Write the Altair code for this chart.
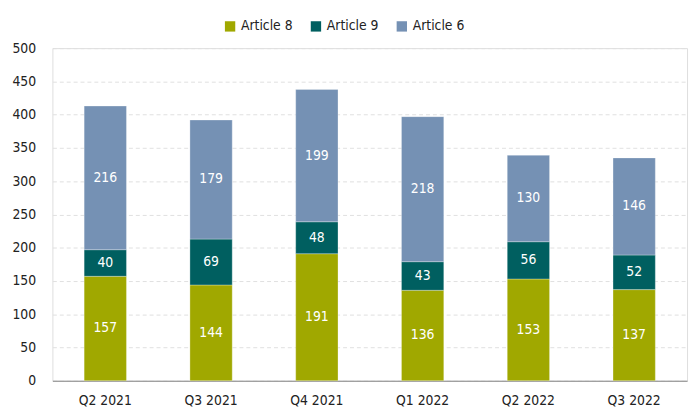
import altair as alt
import pandas as pd

quarters = ["Q2 2021", "Q3 2021", "Q4 2021", "Q1 2022", "Q2 2022", "Q3 2022"]
article8 = [157, 144, 191, 136, 153, 137]
article9 = [40, 69, 48, 43, 56, 52]
article6 = [216, 179, 199, 218, 130, 146]
series = ["Article 8", "Article 9", "Article 6"]
colors = ["#A0A800", "#005F60", "#7591B4"]
y_ticks = [0, 50, 100, 150, 200, 250, 300, 350, 400, 450, 500]

rows = []
for i, q in enumerate(quarters):
    for k, (name, vals) in enumerate(zip(series, [article8, article9, article6])):
        rows.append({"quarter": q, "series": name, "value": vals[i], "order": k})
df = pd.DataFrame(rows)

FONT = "'DejaVu Sans Condensed', Roboto, sans-serif"

x_scale = alt.Scale(paddingInner=0.6, paddingOuter=0.3)
x_axis = alt.Axis(title=None, labelAngle=0, labelFontSize=14, labelColor="#222",
                  labelFont=FONT, ticks=False, domainColor="#888", labelPadding=13)
y_scale = alt.Scale(domain=[0, 500])
y_axis = alt.Axis(title=None, values=y_ticks, labelFontSize=14,
                  labelFont=FONT, labelColor="#222", ticks=False, domain=False,
                  gridDash=[4, 3], gridColor="#e0e0e0", labelPadding=17,
                  labelOverlap=False)

base = alt.Chart(df)

bars = base.mark_bar(stroke="white", strokeWidth=0.5, strokeOpacity=0.6).encode(
    x=alt.X("quarter:N", sort=quarters, scale=x_scale, axis=x_axis),
    y=alt.Y("value:Q", stack="zero", scale=y_scale, axis=y_axis),
    color=alt.Color("series:N", scale=alt.Scale(domain=series, range=colors),
                    legend=alt.Legend(title=None, orient="none", direction="horizontal",
                                      legendX=173, legendY=-29, symbolType="square",
                                      symbolSize=110, symbolStrokeWidth=0,
                                      labelFontSize=14, labelFont=FONT, labelColor="#222",
                                      columnPadding=16, symbolOffset=0)),
    order=alt.Order("order:Q", sort="ascending"),
)

labels = base.transform_stack(
    stack="value", groupby=["quarter"], as_=["y0", "y1"],
    sort=[alt.SortField("order", order="ascending")]
).transform_calculate(
    mid="(datum.y0 + datum.y1) / 2"
).mark_text(color="white", fontSize=14, font=FONT, baseline="middle").encode(
    x=alt.X("quarter:N", sort=quarters, scale=x_scale, axis=x_axis),
    y=alt.Y("mid:Q", scale=y_scale, axis=y_axis),
    text=alt.Text("value:Q"),
)

chart = alt.layer(bars, labels).properties(
    width=643, height=337,
    padding={"left": 3, "top": 9, "right": 5, "bottom": 2},
).configure_view(strokeWidth=0).configure(font=FONT)

chart.save("out.html", embed_options={"renderer": "svg", "actions": False})
